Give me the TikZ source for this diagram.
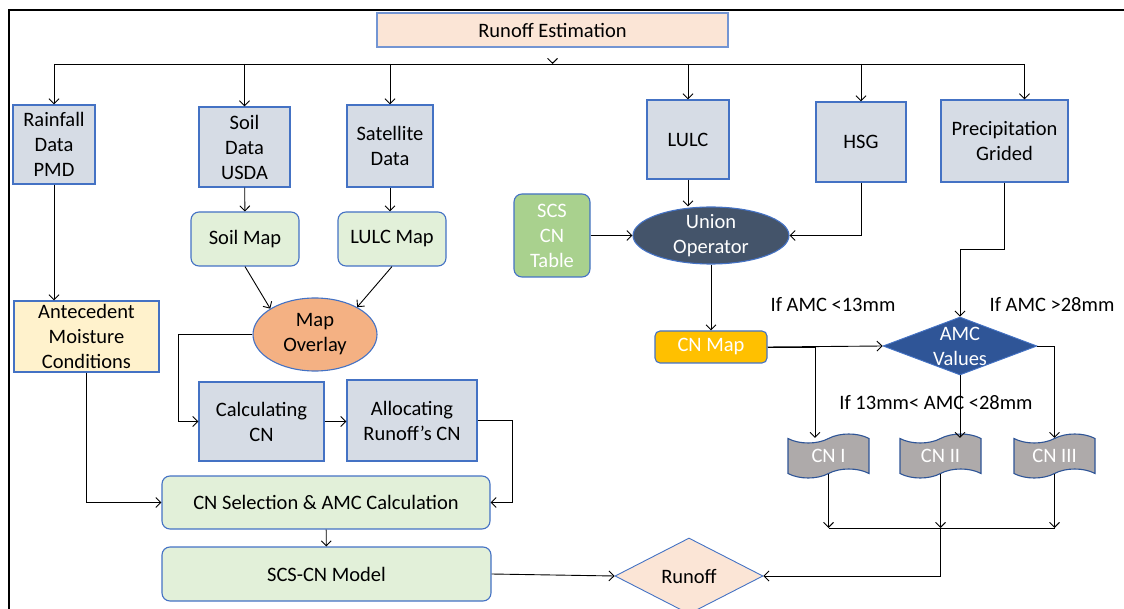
\documentclass[tikz,border=0pt]{standalone}
\usepackage{fontspec}
\setmainfont{Carlito}
\usetikzlibrary{arrows.meta,shapes.geometric,shapes.symbols}
\definecolor{inputfill}{HTML}{D6DCE5}
\definecolor{edgeblue}{HTML}{4472C4}
\definecolor{mapfill}{HTML}{E2F0D9}
\definecolor{peach}{HTML}{FBE5D6}
\definecolor{cream}{HTML}{FFF2CC}
\definecolor{overlayfill}{HTML}{F4B183}
\definecolor{slate}{HTML}{44546A}
\definecolor{tablefill}{HTML}{A9D18E}
\definecolor{amber}{HTML}{FFC000}
\definecolor{navy}{HTML}{2F5597}
\definecolor{tapegrey}{HTML}{AEAAAA}

\begin{document}
\begin{tikzpicture}
  [ x=1pt, y=-1pt
  , font=\fontsize{20.5}{25}\selectfont
  , srcbox/.style={rectangle, draw=edgeblue, fill=inputfill, line width=1.3pt, align=center, inner sep=0pt}
  , mapbox/.style={rectangle, rounded corners=8pt, draw=edgeblue, fill=mapfill, line width=1.1pt, align=center, inner sep=0pt}
  , oval/.style={ellipse, draw=edgeblue, line width=1.1pt, align=center, inner sep=0pt}
  , cnclass/.style={tape, tape bend top=in and out, tape bend bottom=in and out, tape bend height=9pt, draw=navy, fill=tapegrey, text=white, line width=1.1pt, inner sep=0pt, minimum width=81pt, minimum height=44pt}
  , >={Straight Barb[length=5pt,width=10pt]}
  , line width=0.9pt]
  \useasboundingbox (0,0) rectangle (1124,609);
  \node (est) at (552.5,30) [srcbox, fill=peach, draw=edgeblue!75, minimum width=351pt, minimum height=34pt] {Runoff Estimation};
  \node (rain) at (54,144.5) [srcbox, minimum width=82pt, minimum height=79pt] {Rainfall\\Data\\PMD};
  \node (soil) at (244.5,147) [srcbox, minimum width=91pt, minimum height=80pt] {Soil\\Data\\USDA};
  \node (sat) at (390,146) [srcbox, minimum width=86pt, minimum height=82pt] {Satellite\\Data};
  \node (lulc) at (688,139.5) [srcbox, minimum width=82pt, minimum height=79pt] {LULC};
  \node (hsg) at (861,142) [srcbox, minimum width=90pt, minimum height=80pt] {HSG};
  \node (prec) at (1004.5,141) [srcbox, minimum width=127pt, minimum height=82pt] {Precipitation\\Grided};
  \node (soilmap) at (245,239) [mapbox, minimum width=108pt, minimum height=54pt] {Soil Map};
  \node (lulcmap) at (392,239) [mapbox, minimum width=108pt, minimum height=54pt] {LULC Map};
  \node (cntable) at (552,235.5) [mapbox, fill=tablefill, text=white, minimum width=76pt, minimum height=83pt] {SCS\\CN\\Table};
  \node (union) at (711,235.5) [oval, fill=slate, text=white, inner ysep=-8pt, minimum width=156pt, minimum height=57pt] {Union\\Operator};
  \node (amc) at (86.5,336.5) [srcbox, fill=cream, minimum width=145pt, minimum height=71pt] {Antecedent\\Moisture\\Conditions};
  \node (overlay) at (315,334.5) [oval, fill=overlayfill, minimum width=124pt, minimum height=73pt] {Map\\Overlay};
  \node (calc) at (261.5,421.5) [srcbox, minimum width=125pt, minimum height=79pt] {Calculating\\CN};
  \node (alloc) at (412,420.5) [srcbox, minimum width=130pt, minimum height=81pt] {Allocating\\Runoff’s CN};
  \node (cnsel) at (326,502.5) [mapbox, minimum width=328pt, minimum height=53pt] {CN Selection \& AMC Calculation};
  \node (model) at (326.5,574) [mapbox, minimum width=329pt, minimum height=54pt] {SCS-CN Model};
  \node (cnmap) at (711,347) [mapbox, rounded corners=5pt, fill=amber, text=white, minimum width=112pt, minimum height=32pt] {CN Map};
  \node (amcv) at (960,346) [diamond, draw=edgeblue, fill=navy, text=white, align=center, inner xsep=-20pt, inner ysep=-18pt, minimum width=154pt, minimum height=58pt] {AMC\\Values};
  \node (runoff) at (689,576) [diamond, draw=edgeblue, fill=peach, inner sep=0pt, minimum width=148pt, minimum height=76pt] {Runoff};
  \node (cn1) at (828.5,456) [cnclass] {CN I};
  \node (cn2) at (940.5,456) [cnclass] {CN II};
  \node (cn3) at (1054.5,456) [cnclass] {CN III};
  \node (dry) at (833,305) {If AMC <13mm};
  \node (wet) at (1052,305) {If AMC >28mm};
  \node (normal) at (936,403) {If 13mm< AMC <28mm};
  % frame
  \draw [line width=2pt] (8.5,609) -- (8.5,10.5) -- (1124,10.5);
  % top bus
  \coordinate (bus) at (552,64);
  \coordinate (precin) at ([xshift=20pt]prec.north);
  \draw (rain.north |- bus) -- (precin |- bus);
  \draw [->, shorten <=14pt] (est.south) -- (est.south |- bus);
  \foreach \n in {rain,soil,sat,lulc,hsg}
    \draw [->] (\n.north |- bus) -- (\n.north);
  \draw [->] (precin |- bus) -- (precin);
  % left branch
  \draw [->] (rain.south) -- (rain.south |- amc.north);
  \draw [->] (amc.south) |- (cnsel.west);
  \draw [->] (soil) -- (soilmap);
  \draw [->] (sat.south) -- (sat.south |- lulcmap.north);
  \draw [->] (soilmap.south) -- (overlay.150);
  \draw [->] (lulcmap.south) -- (overlay.33);
  \draw [->] (overlay.west) -- ++(-74,0) |- (calc.west);
  \draw [->] (calc.east) -- (calc.east -| alloc.west);
  \draw [->] (alloc.east) -- ++(35,0) |- (cnsel.east);
  \draw [->] (cnsel) -- (model);
  \draw [->] (model.east) -- (runoff.west);
  % right branch
  \draw [->] (lulc.south) -- (lulc.south |- union.north);
  \draw [->] (cntable.east) -- (union.west);
  \draw [->] (hsg.south) |- (union.east);
  \draw [->] (union.south) -- (cnmap.north);
  \draw [->] (prec.south) -- ++(0,67) -| (amcv.north);
  \draw [->] (cnmap.east) -- (amcv.west);
  \draw [->] (cnmap.east) -| ([xshift=-13.5pt]cn1.north);
  \draw [->] (amcv.south) -- (amcv.south |- cn2.north);
  \draw [->] (amcv.east) -| (cn3.north);
  \coordinate (merge) at (940.5,528);
  \foreach \n in {cn1,cn2,cn3}
    \draw [->] (\n.south) -- (\n.south |- merge);
  \draw (cn1.south |- merge) -- (cn3.south |- merge);
  \draw [->] (merge) |- (runoff.east);
\end{tikzpicture}
\end{document}
